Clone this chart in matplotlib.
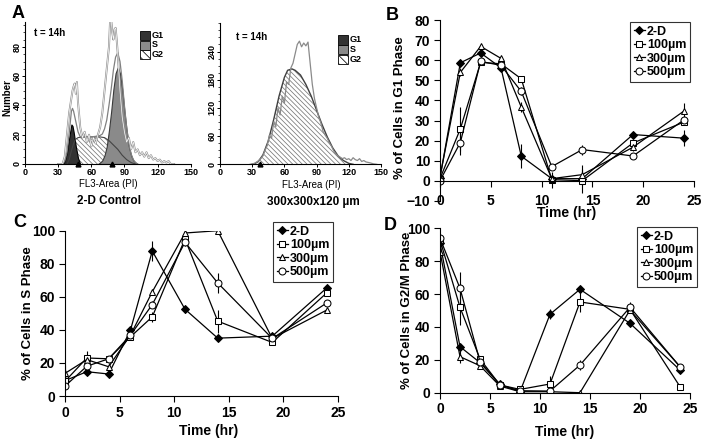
import matplotlib
matplotlib.use('Agg')
import matplotlib.pyplot as plt
from matplotlib.patches import Rectangle
from matplotlib.lines import Line2D
from matplotlib.ticker import MultipleLocator

plt.rcParams['font.family'] = ['Liberation Sans', 'DejaVu Sans']
plt.rcParams['font.weight'] = 'bold'
plt.rcParams['hatch.linewidth'] = 0.55
plt.rcParams['hatch.color'] = '#777777'

W, H = 704, 443

# ---------------- data: time courses ----------------
time_hr = [0, 2, 4, 6, 8, 11, 14, 19, 24]
series_names = ['2-D', '100µm', '300µm', '500µm']

g1_2d   = [1.5, 58.8, 63.7, 56.3, 12.2, 1, 1, 23, 21.2]
g1_100  = [1, 25.8, 59, 58.3, 50.8, 0.5, 0, 18.8, 29.2]
g1_300  = [2, 54, 67, 61, 36.7, 1, 3, 16.7, 34.7]
g1_500  = [0, 19, 59.5, 57.5, 44.5, 7, 15.5, 12.3, 30.3]
g1_err_2d  = [1, 1, 1, 1, 6, 1, 1, 1, 4]
g1_err_100 = [1, 11, 1, 1, 1, 4, 6, 1, 1]
g1_err_300 = [1, 2, 1, 1, 2.5, 1, 5, 2, 4]
g1_err_500 = [1, 6, 1, 2, 2, 1, 2.5, 1, 2]

s_2d   = [9.3, 14.7, 13.3, 39.8, 87.7, 52.5, 35, 36.2, 65.4]
s_100  = [8.9, 23, 22.5, 35.8, 47.9, 95, 45.3, 32.4, 62.4]
s_300  = [13.7, 22, 17.7, 36.8, 63, 98.6, 100, 34.8, 52]
s_500  = [6, 18, 22.5, 36.8, 55.3, 93, 68.4, 34.8, 56.3]
s_err_2d  = [1, 1, 1, 2, 6, 2, 1, 1, 2]
s_err_100 = [1, 4, 1, 1, 3, 2, 7, 1, 2]
s_err_300 = [5, 1, 2, 1, 1, 1, 1, 1, 1]
s_err_500 = [1, 1, 2, 2, 2, 2, 6, 1, 1]

g2_2d   = [90.9, 28, 18.3, 5, 0.6, 47.7, 62.9, 42.2, 13.8]
g2_100  = [92.9, 52, 20.5, 4.7, 2, 5.3, 55.2, 50.7, 3.7]
g2_300  = [85.8, 21.9, 16.4, 4, 0.6, 0.6, 0, 50.3, 15.8]
g2_500  = [94, 63.5, 18.9, 4.7, 1.2, 1, 16.8, 52, 15.8]
g2_err_2d  = [1, 1, 1, 1, 1, 3, 1, 1, 2]
g2_err_100 = [2, 11, 1, 1, 1, 5, 6, 1, 1]
g2_err_300 = [3, 4, 2, 1, 1, 1, 1, 1, 1]
g2_err_500 = [1, 10, 1, 1, 1, 1, 3, 3, 1]

# ---------------- data: DNA histograms (t = 14h) ----------------
raw_l_x = [30,34,36,38,40,42,43,44,45,46,47,48,50,52,54,56,58,60,62,64,66,68,70,72,74,
           76,77,78,79,80,81,82,83,84,86,88,90,92,94,96,98,100,102,104,106,108,110,112,
           114,116,118,120,122,124,126,128,130,132,135]
raw_l_y = [0,0,5,20,35,45,50,53,55,48,56,42,25,18,22,15,20,12,18,14,20,25,35,50,65,
           80,97,99,90,85,92,93,85,75,50,32,22,15,18,10,15,8,10,6,8,5,8,4,
           6,3,4,2,3,1,2,1,2,0,0]
fit_l_x = [34,36,38,40,42,43,44,46,48,50,55,60,65,68,70,72,74,76,78,80,82,84,86,88,90,
           92,94,96,98,100,102]
fit_l_y = [0,2,8,21,36,38,36,29,22,18.5,18.5,18.5,19,19.5,20.5,24,30,40,51,64,73,76,70,57,40,
           25,14,7,3,1,0]
g1_l_x = [34,36,38,40,42,43,44,46,48,50]
g1_l_y = [0,2,8,18,27,26,22,12,4,0]
s_l_x = [38,40,42,44,46,48,52,56,60,64,68,72,76,80,84,88,92,96,100]
s_l_y = [0,3,9,14,17,18,18.5,18.5,18.5,18.5,18.5,18,16,13,10,6,3,1,0]
g2_l_x = [66,68,70,72,74,76,78,80,82,84,86,88,90,92,94,96,98,100,102]
g2_l_y = [0,1,2.5,6,12,23,36,51,62,66,62,51,36,23,12,6,2.5,1,0]
marks_l = [48, 79]

raw_r_x = [28,32,35,38,40,42,44,46,48,50,52,54,56,58,60,62,64,66,68,70,72,74,76,78,80,
           82,84,86,88,90,92,94,96,98,100,102,104,106,108,110,112,114,116,118,120,122,
           124,126,128,130,132,134,136,138,140,143,146]
raw_r_y = [0,2,6,12,18,30,40,62,55,90,80,120,105,145,130,175,170,205,215,235,255,262,250,258,252,
           260,215,170,140,120,100,88,70,62,55,45,38,28,22,18,15,12,14,10,12,8,
           14,10,8,12,6,8,5,4,3,1,0]
fit_r_x = [30,33,36,40,45,50,55,60,63,67,70,75,80,85,90,95,100,105,110,115,120,124]
fit_r_y = [0,2,7,20,50,95,145,185,200,203,200,190,170,145,115,85,58,35,18,8,2,0]
marks_r = [37]

hist_xticks = [0, 30, 60, 90, 120, 150]
legend_A = ['G1', 'S', 'G2']


def rect(l, t, r, b):
    return [l / W, 1 - b / H, (r - l) / W, (b - t) / H]


def ftext(x, y, s, **kw):
    fig.text(x / W, 1 - y / H, s, **kw)


fig = plt.figure(figsize=(W / 100, H / 100), dpi=100)

# ================= Panel A histograms =================
def hist_axes(ax, ymax, yticks, yminor):
    ax.set_xlim(0, 150)
    ax.set_ylim(0, ymax)
    ax.set_xticks(hist_xticks)
    ax.set_yticks(yticks)
    ax.yaxis.set_minor_locator(MultipleLocator(yminor))
    for s in ['top', 'right']:
        ax.spines[s].set_visible(False)
    for s in ['left', 'bottom']:
        ax.spines[s].set_linewidth(0.8)
    ax.tick_params(axis='x', labelsize=6.5, length=2, width=0.7, pad=1)
    ax.tick_params(axis='y', labelsize=6.5, length=2, width=0.7, pad=0.5)
    ax.tick_params(axis='y', which='minor', length=1.5, width=0.5)
    ax.tick_params(axis='y', labelrotation=90)
    for lbl in ax.get_yticklabels():
        lbl.set_va('center')


axL = fig.add_axes(rect(25, 22, 190.7, 164))
hist_axes(axL, 97, [0, 20, 40, 60, 80], 5)
axL.fill_between(s_l_x, 0, s_l_y, facecolor='white', edgecolor='#777777', hatch='\\\\\\\\\\\\\\', linewidth=0)
axL.fill_between(g2_l_x, 0, g2_l_y, facecolor='#8a8a8a', edgecolor='#3a3a3a', linewidth=0.8)
axL.plot(s_l_x, s_l_y, color='#444444', lw=0.8)
axL.fill_between(g1_l_x, 0, g1_l_y, facecolor='#333333', edgecolor='black', linewidth=0.8)
axL.plot(fit_l_x, fit_l_y, color='#808080', lw=0.9)
axL.plot(raw_l_x, raw_l_y, color='#8c8c8c', lw=1.4)
axL.plot(raw_l_x, raw_l_y, color='white', lw=0.5)
axL.plot(marks_l, [0] * len(marks_l), '^', color='black', ms=3.5, clip_on=False, zorder=5)

axR = fig.add_axes(rect(220, 23.3, 381, 164.3))
hist_axes(axR, 300, [0, 60, 120, 180, 240], 15)
axR.fill_between(fit_r_x, 0, fit_r_y, facecolor='white', edgecolor='#777777', hatch='\\\\\\\\\\\\\\', linewidth=0)
axR.plot(fit_r_x, fit_r_y, color='#404040', lw=1.0)
axR.plot(raw_r_x, raw_r_y, color='#8a8a8a', lw=0.9)
axR.plot(marks_r, [0] * len(marks_r), '^', color='black', ms=3.5, clip_on=False, zorder=5)

# legends of histogram panels
def hist_legend(x0, ys, xt):
    styles = [dict(facecolor='#333333'), dict(facecolor='#8a8a8a'),
              dict(facecolor='white', hatch='\\\\\\\\')]
    for yc, lab, st in zip(ys, legend_A, styles):
        r = Rectangle((x0 / W, 1 - (yc + 5) / H), 10 / W, 9 / H, transform=fig.transFigure,
                      edgecolor='black', linewidth=0.6, **st)
        fig.add_artist(r)
        ftext(xt, yc, lab, fontsize=6.5, va='center', ha='left')

hist_legend(140, [35, 44.7, 54.3], 152)
hist_legend(338, [39.5, 49.3, 59], 350)

ftext(50, 32.5, 't = 14h', fontsize=7, ha='center', va='center')
ftext(252, 36.7, 't = 14h', fontsize=7, ha='center', va='center')
ftext(7, 98, 'Number', fontsize=7, rotation=90, ha='center', va='center')
ftext(108, 184, 'FL3-Area (PI)', fontsize=7, ha='center', va='center', fontweight='normal')
ftext(311, 184.5, 'FL3-Area (PI)', fontsize=7, ha='center', va='center', fontweight='normal')
ftext(109, 201, '2-D Control', fontsize=8.5, ha='center', va='center')
ftext(313, 202, '300x300x120 µm', fontsize=8.5, ha='center', va='center')

# ================= Panels B, C, D =================
styles = [dict(marker='D', ms=3.6, mfc='black'),
          dict(marker='s', ms=4.3, mfc='white'),
          dict(marker='^', ms=4.6, mfc='white'),
          dict(marker='o', ms=5, mfc='white')]


def time_panel(ax, data, errs, ylim, yticks, bottom_at_zero=False):
    for vals, e, st in zip(data, errs, styles):
        ax.errorbar(time_hr, vals, yerr=e, color='black', lw=0.9, elinewidth=0.8,
                    capsize=0, mec='black', mew=0.75, **st)
    ax.set_xlim(0, 25)
    ax.set_ylim(*ylim)
    ax.set_xticks([0, 5, 10, 15, 20, 25])
    ax.set_yticks(yticks)
    for s in ['top', 'right']:
        ax.spines[s].set_visible(False)
    for s in ['left', 'bottom']:
        ax.spines[s].set_linewidth(0.8)
    ax.tick_params(axis='both', labelsize=10, length=4, width=0.8, pad=3)
    if bottom_at_zero:
        ax.spines['bottom'].set_position(('data', 0))
        ax.tick_params(axis='x', pad=5.5)


def time_legend(ax, x0, y0):
    handles = [Line2D([], [], color='black', lw=0.9, mec='black', mew=0.75, **st) for st in styles]
    leg = ax.legend(handles, series_names, loc='upper left', bbox_to_anchor=(x0 / W, 1 - y0 / H),
                    bbox_transform=fig.transFigure, fontsize=9, frameon=True, fancybox=False,
                    edgecolor='black', handlelength=0.9, handletextpad=0.15, borderpad=0.3,
                    labelspacing=0.12, borderaxespad=0)
    leg.get_frame().set_linewidth(0.8)


axB = fig.add_axes(rect(440, 20.3, 694, 200.7))
time_panel(axB, [g1_2d, g1_100, g1_300, g1_500],
           [g1_err_2d, g1_err_100, g1_err_300, g1_err_500],
           (-10, 80), list(range(-10, 81, 10)), bottom_at_zero=True)
time_legend(axB, 630, 22)
ftext(400, 108, '% of Cells in G1 Phase', fontsize=9.5, rotation=90, ha='center', va='center')
ftext(567, 213, 'Time (hr)', fontsize=10, ha='center', va='center')

axC = fig.add_axes(rect(65, 230.7, 337.7, 396))
time_panel(axC, [s_2d, s_100, s_300, s_500],
           [s_err_2d, s_err_100, s_err_300, s_err_500],
           (0, 100), [0, 20, 40, 60, 80, 100])
time_legend(axC, 273, 222)
ftext(28, 313, '% of Cells in S Phase', fontsize=9.5, rotation=90, ha='center', va='center')
ftext(209, 431, 'Time (hr)', fontsize=10, ha='center', va='center')

axD = fig.add_axes(rect(440, 228.3, 690, 392.7))
time_panel(axD, [g2_2d, g2_100, g2_300, g2_500],
           [g2_err_2d, g2_err_100, g2_err_300, g2_err_500],
           (0, 100), [0, 20, 40, 60, 80, 100])
time_legend(axD, 637, 227)
ftext(406.7, 310, '% of Cells in G2/M Phase', fontsize=9.5, rotation=90, ha='center', va='center')
ftext(565, 432, 'Time (hr)', fontsize=10, ha='center', va='center')

# panel letters
ftext(18, 13, 'A', fontsize=13, ha='center', va='center')
ftext(392, 15, 'B', fontsize=13, ha='center', va='center')
ftext(20, 223, 'C', fontsize=13, ha='center', va='center')
ftext(390, 225, 'D', fontsize=13, ha='center', va='center')

fig.savefig('out.png', dpi=100)
